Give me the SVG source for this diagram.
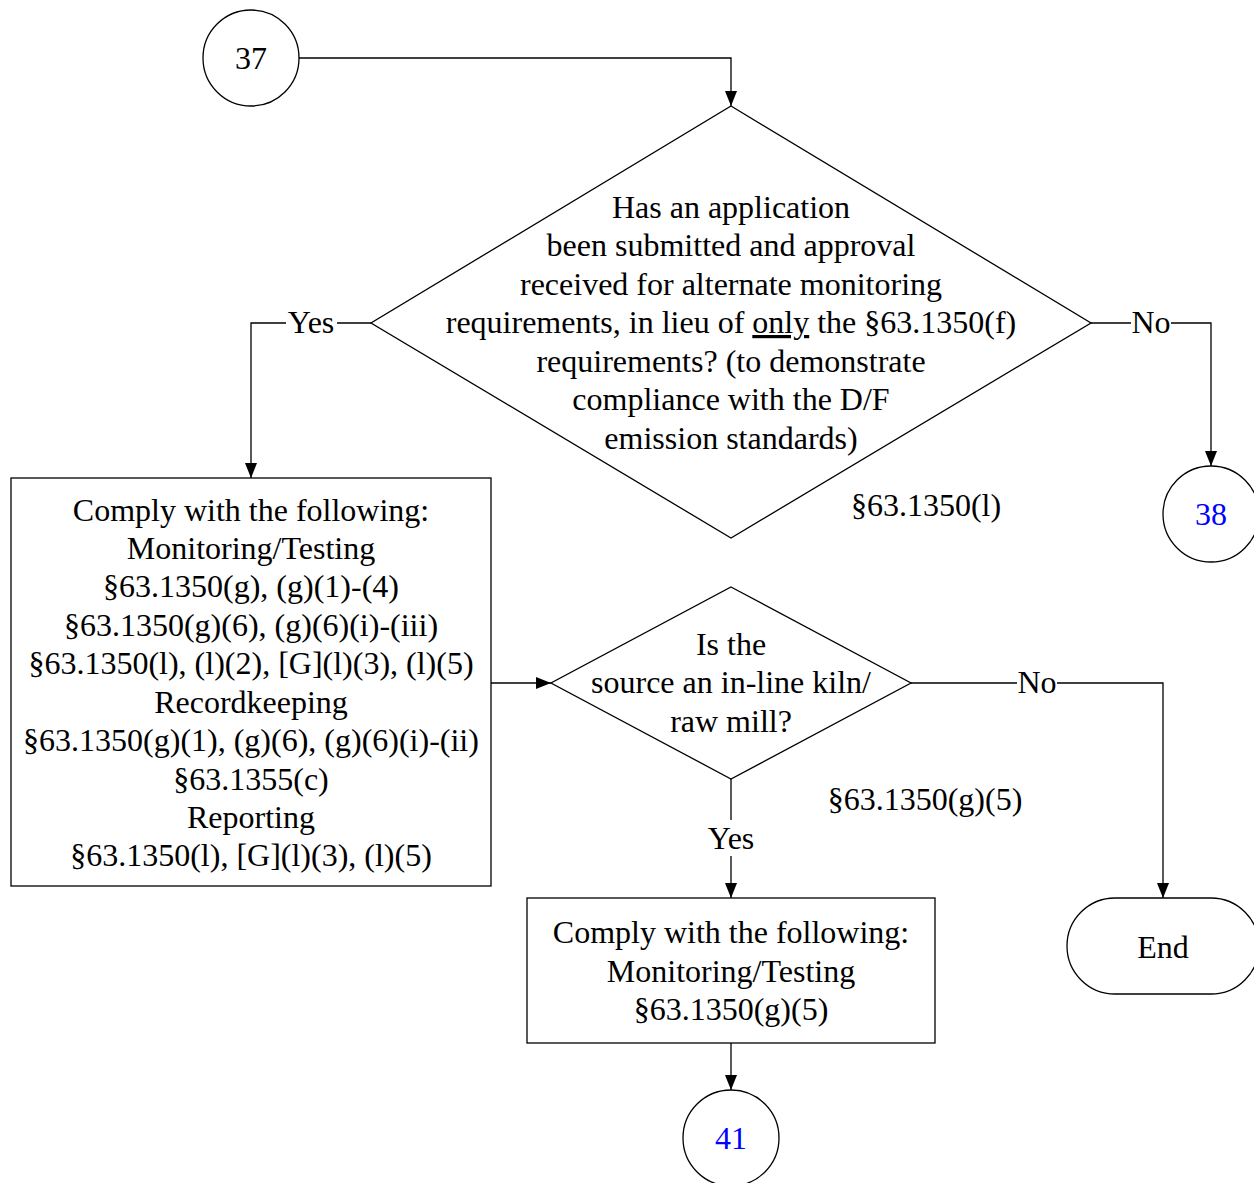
<svg xmlns="http://www.w3.org/2000/svg" width="1254" height="1183" viewBox="0 0 1254 1183">
<defs>
<marker id="arr" markerWidth="15" markerHeight="14" refX="15" refY="7" orient="auto" markerUnits="userSpaceOnUse">
<path d="M0,1 L15,7 L0,13 Z" fill="#000"/>
</marker>
<style>
.s{fill:#fff;stroke:#000;stroke-width:1.3}
.c{fill:none;stroke:#000;stroke-width:1.3}
text{font-family:"Liberation Serif","Times New Roman",serif;font-size:32px;fill:#000;text-anchor:middle}
.b{fill:#0000ff}
</style>
</defs>
<rect width="1254" height="1183" fill="#fff"/>
<g id="connectors">
<polyline class="c" points="299,58 731,58 731,106" marker-end="url(#arr)"/>
<polyline class="c" points="371,323 251,323 251,478" marker-end="url(#arr)"/>
<polyline class="c" points="1091,323 1211,323 1211,466" marker-end="url(#arr)"/>
<polyline class="c" points="491,683 551,683" marker-end="url(#arr)"/>
<polyline class="c" points="911,683 1163,683 1163,898" marker-end="url(#arr)"/>
<polyline class="c" points="731,779 731,898" marker-end="url(#arr)"/>
<polyline class="c" points="731,1043 731,1090" marker-end="url(#arr)"/>
<rect x="286" y="305" width="51" height="36" fill="#fff"/>
<text x="311" y="333">Yes</text>
<rect x="1131" y="305" width="40" height="36" fill="#fff"/>
<text x="1151" y="333">No</text>
<rect x="1017" y="665" width="40" height="36" fill="#fff"/>
<text x="1037" y="693">No</text>
<rect x="705" y="820" width="52" height="36" fill="#fff"/>
<text x="731" y="849">Yes</text>
</g>
<g id="n37">
<circle class="s" cx="251" cy="58" r="48"/>
<text x="251" y="69">37</text>
</g>
<g id="d1">
<polygon class="s" points="731,106 1091,323 731,538 371,323"/>
<text x="731" y="218">Has an application</text>
<text x="731" y="256">been submitted and approval</text>
<text x="731" y="295">received for alternate monitoring</text>
<text x="731" y="333">requirements, in lieu of <tspan text-decoration="underline">only</tspan> the §63.1350(f)</text>
<text x="731" y="372">requirements? (to demonstrate</text>
<text x="731" y="410">compliance with the D/F</text>
<text x="731" y="449">emission standards)</text>
<text x="926" y="516">§63.1350(l)</text>
</g>
<g id="n38">
<circle class="s" cx="1211" cy="514" r="48"/>
<text class="b" x="1211" y="525">38</text>
</g>
<g id="box1">
<rect class="s" x="11" y="478" width="480" height="408"/>
<text x="251" y="521">Comply with the following:</text>
<text x="251" y="559">Monitoring/Testing</text>
<text x="251" y="597">§63.1350(g), (g)(1)-(4)</text>
<text x="251" y="636">§63.1350(g)(6), (g)(6)(i)-(iii)</text>
<text x="251" y="674">§63.1350(l), (l)(2), [G](l)(3), (l)(5)</text>
<text x="251" y="713">Recordkeeping</text>
<text x="251" y="751">§63.1350(g)(1), (g)(6), (g)(6)(i)-(ii)</text>
<text x="251" y="790">§63.1355(c)</text>
<text x="251" y="828">Reporting</text>
<text x="251" y="866">§63.1350(l), [G](l)(3), (l)(5)</text>
</g>
<g id="d2">
<polygon class="s" points="731,587 911,683 731,779 551,683"/>
<text x="731" y="655">Is the</text>
<text x="731" y="693">source an in-line kiln/</text>
<text x="731" y="732">raw mill?</text>
<text x="925" y="810">§63.1350(g)(5)</text>
</g>
<g id="box2">
<rect class="s" x="527" y="898" width="408" height="145"/>
<text x="731" y="943">Comply with the following:</text>
<text x="731" y="982">Monitoring/Testing</text>
<text x="731" y="1020">§63.1350(g)(5)</text>
</g>
<g id="end">
<rect class="s" x="1067" y="898" width="192" height="96" rx="48" ry="48"/>
<text x="1163" y="958">End</text>
</g>
<g id="n41">
<circle class="s" cx="731" cy="1138" r="48"/>
<text class="b" x="731" y="1149">41</text>
</g>
</svg>
